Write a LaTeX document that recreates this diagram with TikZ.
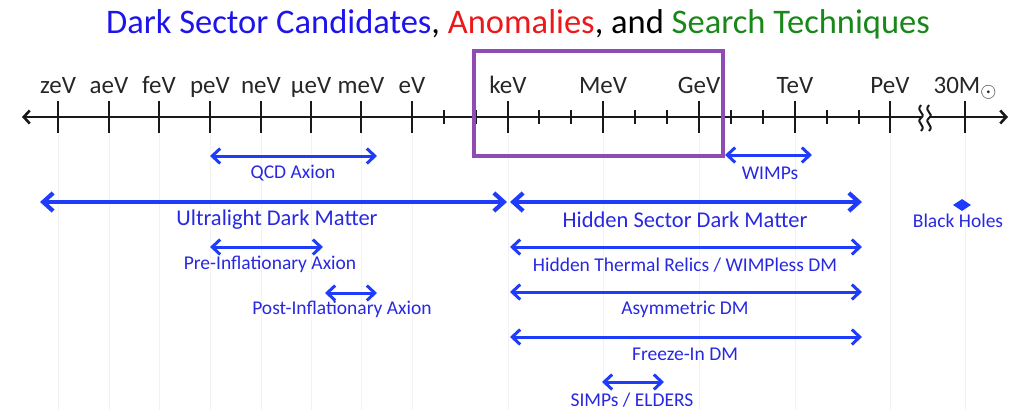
\documentclass[tikz,border=0pt]{standalone}
\usepackage{fontspec}
\setmainfont{Carlito}
\definecolor{dmblue}{RGB}{30,60,250}
\definecolor{textblue}{RGB}{40,40,225}
\definecolor{titleblue}{RGB}{30,20,235}
\definecolor{titlered}{RGB}{235,25,25}
\definecolor{titlegreen}{RGB}{25,135,25}
\definecolor{boxpurple}{RGB}{145,75,180}
\usepackage{tikz}
\usetikzlibrary{
	arrows.meta,
	positioning,
	shapes.geometric
}
\tikzset{
  % arrow
	dmaxis/.style   ={<->, >={Straight Barb[length=6pt,width=13pt]}, line width=2.6pt, black!90},
	dmlra/.style    ={<->, >={Straight Barb[length=8pt,width=15pt]}, line width=3pt, dmblue},
	dmwlra/.style   ={<->, >={Straight Barb[length=10pt,width=18pt]}, line width=4.2pt, dmblue},
  % scale
	dmtick/.style   ={line width=2.8pt, black!90},
	dmminor/.style  ={line width=2.2pt, black!90},
	dmgrid/.style   ={line width=0.8pt, black!5},
	dmbreak/.style  ={line width=2pt, black!90},
	dmbox/.style    ={line width=3.5pt, boxpurple},
  % text
	dmtitle/.style  ={anchor=base, inner sep=0pt, font=\fontsize{34.5}{38}\selectfont},
	dmscale/.style  ={anchor=base, inner sep=0pt, text=black!85, font=\fontsize{25}{28}\selectfont},
	dmbig/.style    ={inner sep=0pt, text=textblue, font=\fontsize{22.5}{26}\selectfont},
	dmsmall/.style  ={inner sep=0pt, text=textblue, font=\fontsize{19.5}{22}\selectfont}
}
\begin{document}
\begin{tikzpicture}[x=1pt,y=-1pt]
	\useasboundingbox (0,0) rectangle (1017,410);
	\node[dmtitle] (title) at (518,33) {\textcolor{titleblue}{Dark Sector Candidates}, \textcolor{titlered}{Anomalies}, and \textcolor{titlegreen}{Search Techniques}};
	% energy scale
	\foreach \x/\n/\t in {58/zeV/zeV, 109/aeV/aeV, 159/feV/feV, 210/peV/peV, 261/neV/neV, 311/ueV/µeV, 361/meV/meV, 412/eV/eV, 508/keV/keV, 603/MeV/MeV, 699/GeV/GeV, 795/TeV/TeV, 890/PeV/PeV}{
		\draw[dmgrid] (\x,133) -- (\x,410);
		\coordinate (\n) at (\x,117);
		\node[dmscale] (l\n) at (\x,93) {\t};
		\draw[dmtick] (\x,101) -- (\x,133);
	}
	\draw[dmgrid] (965,133) -- (965,410);
	\coordinate (Msun) at (965,117);
	\node[dmscale] (lMsun) at (965,93) {30M\raisebox{-4pt}{\fontsize{20}{20}\selectfont$\odot$}};
	\draw[dmtick] (965,101) -- (965,133);
	\foreach \x in {444,476,539,571,635,667,731,763,827,859}
		\draw[dmminor] (\x,110) -- (\x,124);
	\coordinate (axl) at (22,117);
	\coordinate (axr) at (1008,117);
	\draw[dmaxis] (axl) -- (axr);
	\fill[white] (921,112) rectangle (929,122);
	\draw[dmbreak] (921,105) .. controls (915,112) and (927,113) .. (921,118) .. controls (915,123) and (927,125) .. (921,131);
	\draw[dmbreak] (929,105) .. controls (923,112) and (935,113) .. (929,118) .. controls (923,123) and (935,125) .. (929,131);
	\draw[dmbox] (474,51) rectangle (723,156);
	% candidates
	\coordinate (qcd1) at (210,156);  \coordinate (qcd2) at (377,156);
	\draw[dmlra] (qcd1) -- (qcd2);
	\node[dmsmall] (qcd) at (293,173) {QCD Axion};
	\coordinate (wimp1) at (725,155); \coordinate (wimp2) at (812,155);
	\draw[dmlra] (wimp1) -- (wimp2);
	\node[dmsmall] (wimp) at (770,173) {WIMPs};
	\coordinate (uldm1) at (40,202);  \coordinate (uldm2) at (507,202);
	\draw[dmwlra] (uldm1) -- (uldm2);
	\node[dmbig] (uldm) at (277,220) {Ultralight Dark Matter};
	\coordinate (hsdm1) at (510,202); \coordinate (hsdm2) at (862,202);
	\draw[dmwlra] (hsdm1) -- (hsdm2);
	\node[dmbig] (hsdm) at (685,220) {Hidden Sector Dark Matter};
	\node[diamond, fill=dmblue, inner sep=0pt, minimum width=18pt, minimum height=12pt] (bhd) at (962,205) {};
	\node[dmsmall] (bh) at (958,221) {Black Holes};
	\coordinate (pre1) at (210,247);  \coordinate (pre2) at (323,247);
	\draw[dmlra] (pre1) -- (pre2);
	\node[dmsmall] (pre) at (270,264) {Pre-Inflationary Axion};
	\coordinate (htr1) at (510,247);  \coordinate (htr2) at (862,247);
	\draw[dmlra] (htr1) -- (htr2);
	\node[dmsmall] (htr) at (685,265) {Hidden Thermal Relics / WIMPless DM};
	\coordinate (post1) at (325,293); \coordinate (post2) at (377,293);
	\draw[dmlra] (post1) -- (post2);
	\node[dmsmall] (post) at (342,309) {Post-Inflationary Axion};
	\coordinate (adm1) at (510,292);  \coordinate (adm2) at (862,292);
	\draw[dmlra] (adm1) -- (adm2);
	\node[dmsmall] (adm) at (685,309) {Asymmetric DM};
	\coordinate (fi1) at (510,337);   \coordinate (fi2) at (862,337);
	\draw[dmlra] (fi1) -- (fi2);
	\node[dmsmall] (fi) at (685,354) {Freeze-In DM};
	\coordinate (simp1) at (602,382); \coordinate (simp2) at (664,382);
	\draw[dmlra] (simp1) -- (simp2);
	\node[dmsmall] (simp) at (632,400) {SIMPs / ELDERS};
\end{tikzpicture}
\end{document}
